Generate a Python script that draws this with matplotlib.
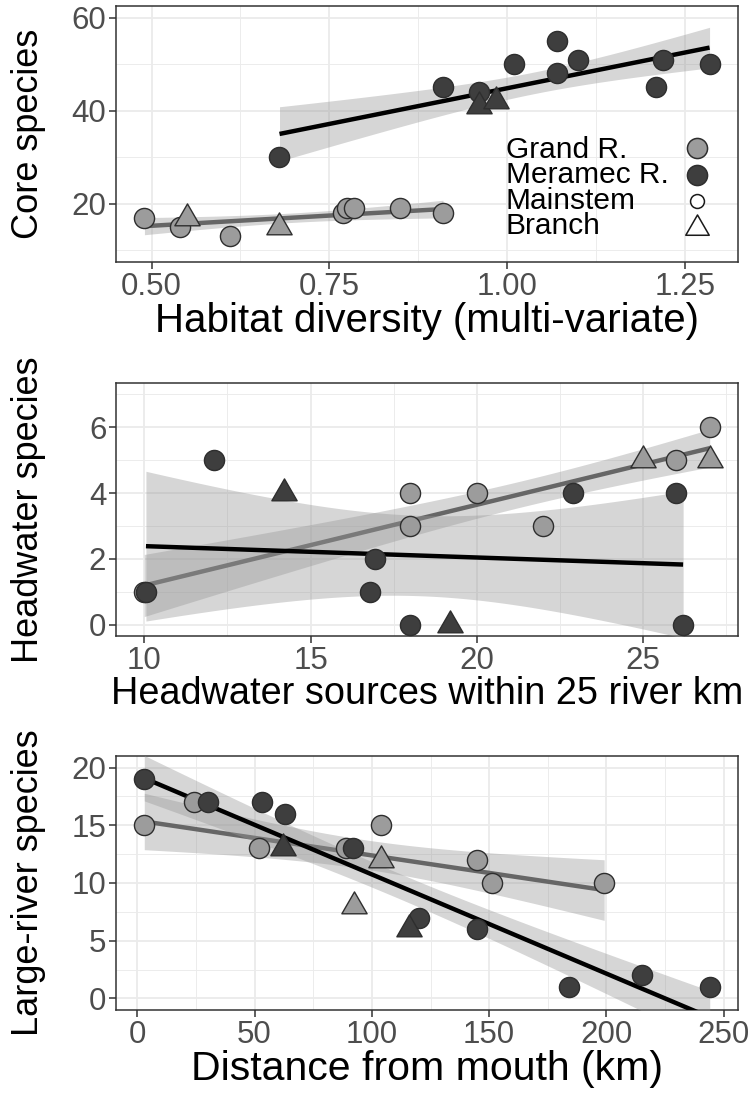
import numpy as np
import matplotlib as mpl
mpl.use('Agg')
import matplotlib.pyplot as plt
from matplotlib.path import Path
from matplotlib.ticker import MultipleLocator

plt.rcParams['font.family'] = ['Liberation Sans', 'DejaVu Sans']

# Core species vs habitat diversity
hab_grand_x = [0.49, 0.54, 0.61, 0.77, 0.775, 0.785, 0.85, 0.91]
hab_grand_y = [17, 15, 13, 18, 19, 19, 19, 18]
hab_grand_tri_x = [0.55, 0.68]
hab_grand_tri_y = [17, 15]
hab_mer_x = [0.68, 0.91, 0.96, 1.01, 1.07, 1.07, 1.10, 1.21, 1.22, 1.285]
hab_mer_y = [30, 45, 44, 50, 55, 48, 51, 45, 51, 50]
hab_mer_tri_x = [0.96, 0.985]
hab_mer_tri_y = [41, 42]

# Headwater species vs headwater sources
hw_grand_x = [10, 18, 18, 20, 22, 26, 27]
hw_grand_y = [1, 4, 3, 4, 3, 5, 6]
hw_grand_tri_x = [25, 27]
hw_grand_tri_y = [5, 5]
hw_mer_x = [10.05, 12.1, 16.95, 16.8, 18, 22.9, 26, 26.2]
hw_mer_y = [1, 5, 2, 1, 0, 4, 4, 0]
hw_mer_tri_x = [14.2, 19.2]
hw_mer_tri_y = [4, 0]

# Large-river species vs distance from mouth
dist_grand_x = [3, 24, 52, 89, 104, 145, 151, 199]
dist_grand_y = [15, 17, 13, 13, 15, 12, 10, 10]
dist_grand_tri_x = [92.5, 104]
dist_grand_tri_y = [8, 12]
dist_mer_x = [3, 30, 53, 63, 92, 120, 145, 184, 215, 244]
dist_mer_y = [19, 17, 17, 16, 13, 7, 6, 1, 2, 1]
dist_mer_tri_x = [62, 116]
dist_mer_tri_y = [13, 6]

legend_labels = ['Grand R.', 'Meramec R.', 'Mainstem', 'Branch']

# one-sided 95% t quantiles -> 90% confidence band
T95 = {6: 1.943, 7: 1.895, 8: 1.860, 9: 1.833, 10: 1.812, 11: 1.796}

GRAND_FILL = '#9c9c9c'
MER_FILL = '#3e3e3e'
EDGE = '#2e2e2e'
RIBBON = '#999999'
PT = 210          # circle size
TRI = 21 ** 2     # triangle size

# triangle with its centroid on the data point
tri = Path([(0, 1), (-0.866, -0.5), (0.866, -0.5), (0, 1)],
           [Path.MOVETO, Path.LINETO, Path.LINETO, Path.CLOSEPOLY])

W, H = 755, 1101
fig = plt.figure(figsize=(W / 100, H / 100), dpi=100)


def add_ax(top, bottom, left=116, right=738):
    return fig.add_axes([left / W, 1 - bottom / H, (right - left) / W, (bottom - top) / H])


def smooth(ax, x, y, color, zo):
    x = np.asarray(x, float)
    y = np.asarray(y, float)
    n = len(x)
    b, a = np.polyfit(x, y, 1)
    xs = np.linspace(x.min(), x.max(), 80)
    fit = a + b * xs
    resid = y - (a + b * x)
    s = np.sqrt(np.sum(resid ** 2) / (n - 2))
    se = s * np.sqrt(1 / n + (xs - x.mean()) ** 2 / np.sum((x - x.mean()) ** 2))
    t = T95[n - 2]
    ax.fill_between(xs, fit - t * se, fit + t * se, color=RIBBON, alpha=0.4, lw=0, zorder=zo)
    ax.plot(xs, fit, color=color, lw=3.2, zorder=zo + 0.5, solid_capstyle='butt')


def panel(ax, gx, gy, gtx, gty, mx, my, mtx, mty):
    smooth(ax, list(gx) + list(gtx), list(gy) + list(gty), '#666666', 2)
    smooth(ax, list(mx) + list(mtx), list(my) + list(mty), 'black', 3)
    ax.scatter(gx, gy, s=PT, marker='o', facecolor=GRAND_FILL, edgecolor=EDGE, linewidths=1, zorder=5)
    ax.scatter(gtx, gty, s=TRI, marker=tri, facecolor=GRAND_FILL, edgecolor=EDGE, linewidths=1, zorder=5)
    ax.scatter(mx, my, s=PT, marker='o', facecolor=MER_FILL, edgecolor=EDGE, linewidths=1, zorder=6)
    ax.scatter(mtx, mty, s=TRI, marker=tri, facecolor=MER_FILL, edgecolor=EDGE, linewidths=1, zorder=6)


def style(ax, xlabel, xsize, ylabel, ycenter):
    ax.grid(True, which='major', color='#ebebeb', lw=1.3, zorder=0)
    ax.grid(True, which='minor', color='#ebebeb', lw=0.65, zorder=0)
    ax.set_axisbelow(True)
    for sp in ax.spines.values():
        sp.set_color('#333333')
        sp.set_linewidth(1.1)
    ax.tick_params(which='major', length=5, width=1.1, color='#333333',
                   labelsize=22.5, labelcolor='#4d4d4d', pad=2)
    ax.tick_params(which='minor', length=0)
    ax.set_xlabel(xlabel, fontsize=xsize, labelpad=0)
    fig.text(29 / W, 1 - ycenter / H, ylabel, rotation=90, fontsize=26,
             ha='center', va='center')


# panel 1
ax1 = add_ax(6, 262)
panel(ax1, hab_grand_x, hab_grand_y, hab_grand_tri_x, hab_grand_tri_y,
      hab_mer_x, hab_mer_y, hab_mer_tri_x, hab_mer_tri_y)
ax1.set_xlim(0.450, 1.325)
ax1.set_ylim(7.5, 62.5)
ax1.xaxis.set_minor_locator(MultipleLocator(0.125))
ax1.yaxis.set_major_locator(MultipleLocator(20))
ax1.yaxis.set_minor_locator(MultipleLocator(10))
ax1.set_xticks([0.5, 0.75, 1.0, 1.25], ['0.50', '0.75', '1.00', '1.25'])
style(ax1, 'Habitat diversity (multi-variate)', 29, 'Core species', 134)

# legend inside panel 1: one text block plus a key column
row = 26.7 / 256
top_row = 1 - (148 - 6) / 256
ax1.text(0.627, top_row - 1.5 * row, '\n'.join(legend_labels), transform=ax1.transAxes,
         fontsize=21.5, va='center', ha='left', linespacing=0.89, zorder=7)
leg_fill = [GRAND_FILL, MER_FILL, 'white', 'white']
leg_marker = ['o', 'o', 'o', tri]
leg_size = [PT, PT, 100, 380]
for i in range(len(legend_labels)):
    ax1.scatter([0.934], [top_row - i * row], transform=ax1.transAxes, s=leg_size[i],
                marker=leg_marker[i], facecolor=leg_fill[i],
                edgecolor='#1a1a1a' if i > 1 else EDGE, linewidths=1.1, zorder=7)

# panel 2
ax2 = add_ax(383, 636)
panel(ax2, hw_grand_x, hw_grand_y, hw_grand_tri_x, hw_grand_tri_y,
      hw_mer_x, hw_mer_y, hw_mer_tri_x, hw_mer_tri_y)
ax2.set_xlim(9.15, 27.85)
ax2.set_ylim(-0.35, 7.35)
ax2.xaxis.set_major_locator(MultipleLocator(5))
ax2.xaxis.set_minor_locator(MultipleLocator(2.5))
ax2.yaxis.set_major_locator(MultipleLocator(2))
ax2.yaxis.set_minor_locator(MultipleLocator(1))
style(ax2, 'Headwater sources within 25 river km', 27.3, 'Headwater species', 510)

# panel 3
ax3 = add_ax(756, 1010)
panel(ax3, dist_grand_x, dist_grand_y, dist_grand_tri_x, dist_grand_tri_y,
      dist_mer_x, dist_mer_y, dist_mer_tri_x, dist_mer_tri_y)
ax3.set_xlim(-9.05, 256.05)
ax3.set_ylim(-1, 21)
ax3.xaxis.set_major_locator(MultipleLocator(50))
ax3.xaxis.set_minor_locator(MultipleLocator(25))
ax3.yaxis.set_major_locator(MultipleLocator(5))
ax3.yaxis.set_minor_locator(MultipleLocator(2.5))
style(ax3, 'Distance from mouth (km)', 29.5, 'Large-river species', 883)

fig.savefig('out.png', dpi=100)
plt.close(fig)
